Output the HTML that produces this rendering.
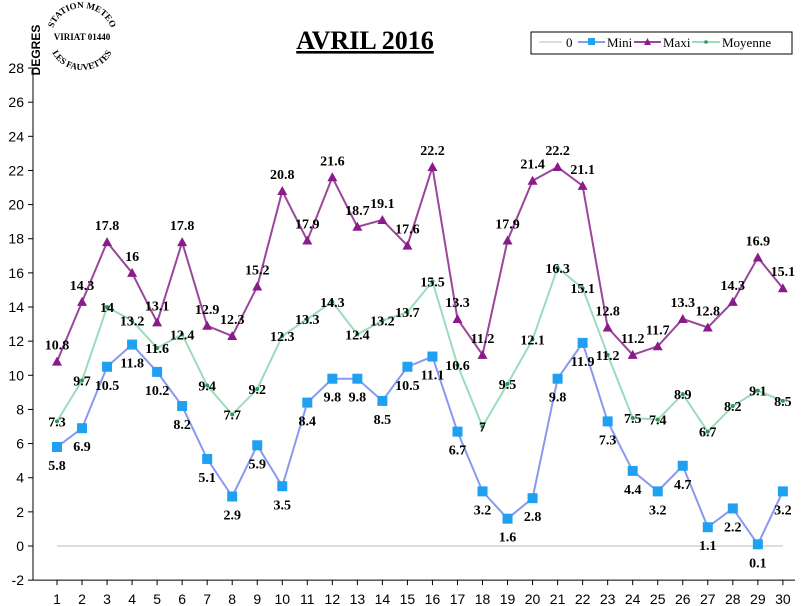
<!DOCTYPE html>
<html><head><meta charset="utf-8"><style>
body{margin:0;background:#fff;}
svg{display:block;font-family:"Liberation Sans",sans-serif;}
.lbl{font-family:"Liberation Serif",serif;font-weight:bold;font-size:14px;text-anchor:middle;}
</style></head><body>
<svg id="chart" width="801" height="606">
<g id="logo" font-family="Liberation Serif,serif" font-weight="bold" fill="#000">
 <defs><path id="arcTop" d="M52,36 A30,28 0 0,1 112,36"/><path id="arcBot" d="M50,42 A32,28 0 0,0 114,42"/></defs>
 <text font-size="9" text-anchor="middle"><textPath href="#arcTop" startOffset="50%">STATION METEO</textPath></text>
 <text x="82" y="40" font-size="9" text-anchor="middle">VIRIAT 01440</text>
 <text font-size="9" text-anchor="middle"><textPath href="#arcBot" startOffset="50%">LES FAUVETTES</textPath></text>
</g>
<text x="40" y="50" font-size="12" font-weight="bold" transform="rotate(-90 40 50)" text-anchor="middle">DEGRES</text>
<text x="365" y="49" font-family="Liberation Serif,serif" font-weight="bold" font-size="26" text-anchor="middle" text-decoration="underline">AVRIL 2016</text>
<g>
 <rect x="531" y="32" width="261" height="22" fill="#fff" stroke="#000"/>
 <g><line x1="539" y1="42" x2="562" y2="42" stroke="#bbb"/><text x="566" y="47" font-family="Liberation Serif,serif" font-size="13">0</text></g>
 <g><line x1="578" y1="42" x2="605" y2="42" stroke="#8899ee" stroke-width="2"/><rect x="588" y="38" width="7" height="7" fill="#1fa0f0"/><text x="607" y="47" font-family="Liberation Serif,serif" font-size="13">Mini</text></g>
 <g><line x1="634" y1="42" x2="661" y2="42" stroke="#9b459b" stroke-width="2"/><polygon points="647.5,38 651,45 644,45" fill="#8b1a8b"/><text x="663" y="47" font-family="Liberation Serif,serif" font-size="13">Maxi</text></g>
 <g><line x1="692" y1="42" x2="720" y2="42" stroke="#99ddbb" stroke-width="2"/><circle cx="706" cy="42" r="1.8" fill="#2a9a5a"/><text x="722" y="47" font-family="Liberation Serif,serif" font-size="13">Moyenne</text></g>
</g>
<g id="axes"></g>
<g id="series"></g>
</svg>
<script>
const days=[1,2,3,4,5,6,7,8,9,10,11,12,13,14,15,16,17,18,19,20,21,22,23,24,25,26,27,28,29,30];
const mini=[5.8,6.9,10.5,11.8,10.2,8.2,5.1,2.9,5.9,3.5,8.4,9.8,9.8,8.5,10.5,11.1,6.7,3.2,1.6,2.8,9.8,11.9,7.3,4.4,3.2,4.7,1.1,2.2,0.1,3.2];
const maxi=[10.8,14.3,17.8,16,13.1,17.8,12.9,12.3,15.2,20.8,17.9,21.6,18.7,19.1,17.6,22.2,13.3,11.2,17.9,21.4,22.2,21.1,12.8,11.2,11.7,13.3,12.8,14.3,16.9,15.1];
const moyenne=[7.3,9.7,14,13.2,11.6,12.4,9.4,7.7,9.2,12.3,13.3,14.3,12.4,13.2,13.7,15.5,10.6,7,9.5,12.1,16.3,15.1,11.2,7.5,7.4,8.9,6.7,8.2,9.1,8.5];
const yTicks=[-2,0,2,4,6,8,10,12,14,16,18,20,22,24,26,28];
const NS="http://www.w3.org/2000/svg";
const xS=d=>57+(d-1)*25.03;
const yS=v=>546-v*17.07;
function mk(tag,attrs,parent){const e=document.createElementNS(NS,tag);for(const k in attrs)e.setAttribute(k,attrs[k]);parent.appendChild(e);return e;}
const ax=document.getElementById('axes'),sr=document.getElementById('series');
const yAxis=mk('line',{x1:33,y1:yS(28),x2:33,y2:yS(-2),stroke:'#000'},ax);


const xAxis=mk('line',{x1:33,y1:yS(-2),x2:795,y2:yS(-2),stroke:'#000'},ax);


yTicks.forEach(v=>{
 mk('line',{x1:28,y1:yS(v),x2:33,y2:yS(v),stroke:'#000'},ax);
 const t=mk('text',{x:24,y:yS(v)+5,'font-size':14,'text-anchor':'end'},ax);t.textContent=v;
 
 
});
days.forEach(d=>{
 mk('line',{x1:xS(d),y1:yS(-2),x2:xS(d),y2:yS(-2)+5,stroke:'#000'},ax);
 const t=mk('text',{x:xS(d),y:yS(-2)+24,'font-size':14,'text-anchor':'middle'},ax);t.textContent=d;
 
 
});
const zl=mk('line',{x1:xS(1),y1:yS(0),x2:xS(30),y2:yS(0),stroke:'#bbb'},sr);


function line(arr,color,name){
 const p=mk('polyline',{points:arr.map((v,i)=>xS(days[i])+','+yS(v)).join(' '),fill:'none',stroke:color,'stroke-width':2},sr);
 
 
}
line(moyenne,'#99ddbb','moyenne-line');
line(mini,'#8899ee','mini-line');
line(maxi,'#9b459b','maxi-line');
mini.forEach((v,i)=>{const x=xS(days[i]),y=yS(v);
 const r=mk('rect',{x:x-5,y:y-5,width:10,height:10,fill:'#1fa0f0'},sr);
 
 
 const t=mk('text',{x:x,y:y+23,class:'lbl'},sr);t.textContent=v;
 
 
});
maxi.forEach((v,i)=>{const x=xS(days[i]),y=yS(v);
 const p=mk('polygon',{points:`${x},${y-5} ${x+5},${y+4} ${x-5},${y+4}`,fill:'#8b1a8b'},sr);
 
 
 const t=mk('text',{x:x,y:y-12,class:'lbl'},sr);t.textContent=v;
 
 
});
moyenne.forEach((v,i)=>{const x=xS(days[i]),y=yS(v);
 const c=mk('circle',{cx:x,cy:y,r:2,fill:'#2a9a5a'},sr);
 
 
 const t=mk('text',{x:x,y:y+5,class:'lbl'},sr);t.textContent=v;
 
 
});
</script>
</body></html>
